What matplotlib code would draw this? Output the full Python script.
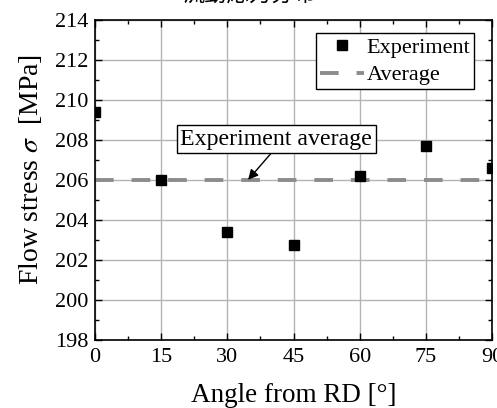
import numpy as np
import matplotlib
matplotlib.use("Agg")
import matplotlib.pyplot as plt
from matplotlib.ticker import MultipleLocator

plt.rcParams['font.family'] = ['Liberation Serif', 'Noto Sans CJK JP']
plt.rcParams['mathtext.fontset'] = 'stix'

# データ
angles = [0, 15, 30, 45, 60, 75, 90]
stress = [209.4, 206.0, 203.4, 202.75, 206.2, 207.7, 206.6]
avg = np.mean(stress)

fig = plt.figure(figsize=(4.97, 4.08), dpi=100)
ax = fig.add_axes([95/497, 1 - 340/408, (492 - 95)/497, (340 - 20)/408])

ax.grid(True, color="#b4b4b4", lw=1.0, zorder=0)
ax.plot(angles, stress, "s", color="black", markersize=6.8, label="Experiment", zorder=3)
ax.axhline(avg, color="#8c8c8c", lw=2.8, ls=(0, (4.8, 4.6)), label="Average", zorder=2)

ax.set_xlim(0, 90)
ax.set_ylim(198, 214)
ax.xaxis.set_major_locator(MultipleLocator(15))
ax.xaxis.set_minor_locator(MultipleLocator(7.5))
ax.yaxis.set_major_locator(MultipleLocator(2))
ax.yaxis.set_minor_locator(MultipleLocator(1))
ax.tick_params(which="both", direction="in", top=True, right=True, labelsize=16, pad=5)
ax.tick_params(axis="x", pad=6)
ax.tick_params(which="major", length=5, width=1)
ax.tick_params(which="minor", length=3, width=1)
for s in ax.spines.values():
    s.set_linewidth(1.2)

ax.set_xlabel("Angle from RD [°]", fontsize=19.5, labelpad=11)
ax.set_ylabel(r"Flow stress $\sigma$  [MPa]", fontsize=20, va="center")
ax.yaxis.set_label_coords(-0.1625, 0.534)

leg = ax.legend(loc="upper right", bbox_to_anchor=(0.955, 0.959), fontsize=16,
                frameon=True, fancybox=False, edgecolor="black", framealpha=1,
                borderaxespad=0, handlelength=2.0, handletextpad=0.1,
                borderpad=0.18, labelspacing=0.32)
leg.get_frame().set_linewidth(1.0)

ax.annotate("Experiment average", xy=(34.7, avg), xytext=(41.1, 208.05),
            fontsize=17.2, ha="center", va="center",
            bbox=dict(boxstyle="square,pad=0.16", fc="white", ec="black", lw=1),
            arrowprops=dict(arrowstyle="-|>", color="black", lw=1, mutation_scale=15,
                            shrinkA=0, shrinkB=0, relpos=(0.49, 0)),
            zorder=4)

fig.text(0.5, 1 - 7/408, "流動応力分布", fontsize=16, ha="center", va="bottom",
         family=['Noto Sans CJK JP'])

fig.savefig("out.png", dpi=100)
